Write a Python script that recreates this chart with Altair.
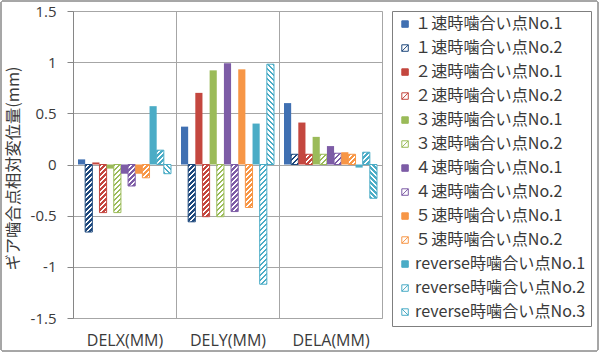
import altair as alt

# ---------------- data ----------------
categories = ["DELX(MM)", "DELY(MM)", "DELA(MM)"]
series = [
    "１速時噛合い点No.1", "１速時噛合い点No.2",
    "２速時噛合い点No.1", "２速時噛合い点No.2",
    "３速時噛合い点No.1", "３速時噛合い点No.2",
    "４速時噛合い点No.1", "４速時噛合い点No.2",
    "５速時噛合い点No.1", "５速時噛合い点No.2",
    "reverse時噛合い点No.1", "reverse時噛合い点No.2", "reverse時噛合い点No.3",
]
delx = [0.05, -0.66, 0.02, -0.47, -0.04, -0.47, -0.09, -0.21, -0.09, -0.13, 0.57, 0.14, -0.09]
dely = [0.37, -0.56, 0.70, -0.51, 0.92, -0.51, 0.99, -0.46, 0.93, -0.42, 0.40, -1.17, 0.98]
dela = [0.60, 0.10, 0.41, 0.10, 0.27, 0.10, 0.18, 0.11, 0.12, 0.10, -0.03, 0.12, -0.33]
y_ticks = [-1.5, -1, -0.5, 0, 0.5, 1, 1.5]

# ---------------- style ----------------
colors = ["#4070B2", "#1F497D", "#C4473F", "#C4473F", "#9BBB59", "#9BBB59",
          "#7D5CA6", "#7D5CA6", "#F79646", "#F79646", "#4BACC6", "#4BACC6", "#4BACC6"]
patterns = ["solid", "/", "solid", "/", "solid", "/", "solid", "/", "solid", "/", "solid", "/", "\\"]

PLOT_W, PLOT_H = 309, 307
LEFT, TOP = 73, 11
Y_MIN, Y_MAX = -1.5, 1.5
OUTER_PAD = 0.7
STEP = PLOT_W / len(categories)
BAR_W = STEP / (len(series) + 2 * OUTER_PAD)
PX_PER_UNIT = PLOT_H / (Y_MAX - Y_MIN)
FONT_LAT = "'Open Sans', 'Noto Sans CJK JP', sans-serif"
FONT_JP = "'Noto Sans CJK JP', sans-serif"
TXT = "#3a3a3a"


def hatch_fill(color, w, h, direction):
    """Diagonal stripes as a linear gradient (object bounding box units)."""
    period, ink = 5.0, 2.5
    L = w + h
    s = L / (w * w + h * h)
    if direction == "/":
        x1, y1, x2, y2 = 0, 0, s * w, s * h
    else:
        x1, y1, x2, y2 = 0, 1, s * w, 1 - s * h
    stops = []
    t = 0.0
    while t < L:
        a = t / L
        b = min(t + ink, L) / L
        c = min(t + period, L) / L
        stops += [{"offset": a, "color": color}, {"offset": b, "color": color},
                  {"offset": b, "color": "#ffffff"}, {"offset": c, "color": "#ffffff"}]
        t += period
    return {"gradient": "linear", "x1": x1, "y1": y1, "x2": x2, "y2": y2, "stops": stops}


rows = []
for cat, vals in zip(categories, [delx, dely, dela]):
    for name, v, col, pat in zip(series, vals, colors, patterns):
        solid = pat == "solid"
        rows.append({
            "cat": cat, "series": name, "val": v,
            "paint": col if solid else hatch_fill(col, BAR_W, abs(v) * PX_PER_UNIT, pat),
            "edge": "transparent" if solid else col,
        })
data = alt.Data(values=rows)

x_enc = alt.X(
    "cat:N",
    sort=categories,
    scale=alt.Scale(domain=categories, paddingInner=0, paddingOuter=0),
    axis=alt.Axis(title=None, labelAngle=0, ticks=False, tickSize=0, domain=False,
                  grid=True, tickBand="extent", gridColor="#A6A6A6", gridWidth=1,
                  labelFont=FONT_LAT, labelFontSize=16, labelColor=TXT, labelPadding=14),
)
xo_enc = alt.XOffset("series:N", sort=series,
                     scale=alt.Scale(domain=series, paddingInner=0, paddingOuter=OUTER_PAD))
y_enc = alt.Y(
    "val:Q",
    stack=None,
    scale=alt.Scale(domain=[Y_MIN, Y_MAX], nice=False, zero=False),
    axis=alt.Axis(values=y_ticks, labelExpr="'' + datum.value", title="ギア噛合点相対変位量(mm)",
                  titleFont=FONT_JP, titleFontSize=16.3, titleFontWeight="normal", titleColor=TXT,
                  titleX=-60, titleY=157, titleAngle=-90, titleAlign="center", titleBaseline="middle",
                  labelFont=FONT_LAT, labelFontSize=15, labelColor=TXT, labelPadding=11,
                  tickSize=6, tickColor="#868686", domainColor="#868686",
                  grid=True, gridColor="#A6A6A6", gridWidth=1),
)

shape_map = {"solid": "M-1,-1H1V1H-1Z", "/": "M-1,-1H1V1H-1Z M-1,1L1,-1", "\\": "M-1,-1H1V1H-1Z M-1,-1L1,1"}

legend = alt.Legend(
    title=None, orient="none", legendX=392 - LEFT, legendY=0,
    symbolSize=42, symbolStrokeWidth=1, labelFont=FONT_JP, labelFontSize=16.1, labelColor=TXT,
    labelOffset=2, labelLimit=400, rowPadding=7, padding=5,
    strokeColor="#7F7F7F", fillColor="white",
)

frame = alt.Chart(data).mark_rect(fillOpacity=0, fill="white", stroke="#A6A6A6", strokeWidth=1,
                                  cornerRadius=3).encode(
    x=alt.value(-LEFT + 1), x2=alt.value(600 - LEFT - 2),
    y=alt.value(-TOP + 1), y2=alt.value(353 - TOP - 2),
)

bars = alt.Chart(data).mark_bar(strokeWidth=1).encode(
    x=x_enc, xOffset=xo_enc, y=y_enc,
    fill=alt.Fill("paint:N", scale=None),
    stroke=alt.Stroke("edge:N", scale=None),
)

# legend-only layer (no rows drawn): symbols built from the series scales
legend_layer = alt.Chart(data).transform_filter("false").mark_point(filled=True, opacity=1, strokeWidth=1).encode(
    x=x_enc, y=y_enc,
    fill=alt.Fill("series:N", sort=series, legend=legend,
                  scale=alt.Scale(domain=series,
                                  range=[c if p == "solid" else "#ffffff" for c, p in zip(colors, patterns)])),
    stroke=alt.Stroke("series:N", sort=series, legend=legend,
                      scale=alt.Scale(domain=series, range=colors)),
    shape=alt.Shape("series:N", sort=series, legend=legend,
                    scale=alt.Scale(domain=series, range=[shape_map[p] for p in patterns])),
)

chart = alt.layer(frame, bars, legend_layer).properties(
    width=PLOT_W, height=PLOT_H,
    padding={"left": LEFT, "top": TOP, "right": 600 - LEFT - PLOT_W, "bottom": 353 - TOP - PLOT_H},
    autosize="none",
).configure_view(stroke="#868686", strokeWidth=1).configure(background="white")

chart.save("out.html", embed_options={"renderer": "svg", "actions": False})
